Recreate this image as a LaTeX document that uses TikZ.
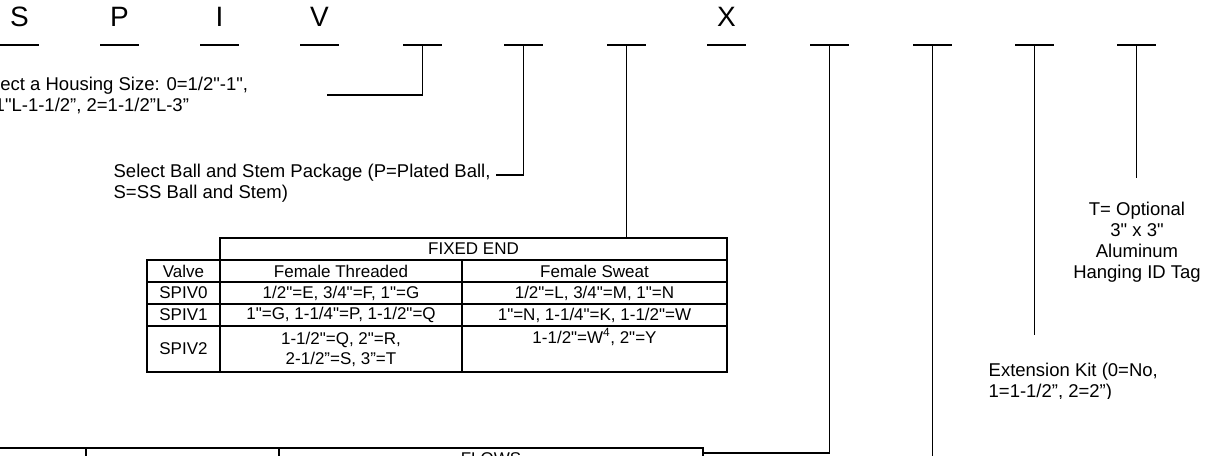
\documentclass[tikz,border=0pt]{standalone}
\usepackage{fontspec}
\setmainfont{Liberation Sans}[Ligatures=TeXOff]
\tikzset{blank/.style={line width=2pt},
  letter/.style={font=\fontsize{28}{30}\selectfont, anchor=base, inner sep=0pt},
  note/.style={font=\fontsize{18.5}{21}\selectfont, inner sep=0pt, align=left},
  cell/.style={font=\fontsize{17}{20}\selectfont, inner sep=0pt, align=center}}

\begin{document}
\begin{tikzpicture}[x=1pt,y=-1pt,line width=1.3pt]
    \useasboundingbox (0,0) rectangle (1209,455);
    \clip (0,0) rectangle (1209,455);

    % blanks of the model code
    \foreach \x [count=\i] in {0,100,200,300,403,504,607,707,810,913,1015,1117} {
      \coordinate (b\i) at (\x+19.5,45);
      \draw[blank] (b\i) ++(-19.5,0) -- ++(39,0);
    }
    \node[letter] (cS) at (19.5,27) {S};
    \node[letter] (cP) at (119.5,27) {P};
    \node[letter] (cI) at (219.5,27) {I};
    \node[letter] (cV) at (319.5,27) {V};
    \node[letter] (cX) at (726.5,27) {X};

    % notes
    \node[note, anchor=west] (housing) at (-27,95.5)
      {Select a Housing Size: 0=1/2"-1",\\1=1"L-1-1/2”, 2=1-1/2”L-3”};
    \node[note, anchor=west] (ball) at (113,183.5)
      {Select Ball and Stem Package (P=Plated Ball,\\S=SS Ball and Stem)};
    \node[note, align=center, anchor=north] (tag) at (1137,201)
      {T= Optional\\3" x 3"\\Aluminum\\Hanging ID Tag};
    \begin{scope}
      \clip (980,355) rectangle (1209,398);
      \node[note, anchor=north west] (extkit) at (988,362)
        {Extension Kit (0=No,\\1=1-1/2”, 2=2”)};
    \end{scope}

    % fixed end table
    \draw (220,238) rectangle node[cell] (fixed) {FIXED END} (727,260);
    \draw (147,260) rectangle node[cell] (valve) {Valve} (220,282);
    \draw (220,260) rectangle node[cell] (thread) {Female Threaded} (462,282);
    \draw (462,260) rectangle node[cell] (sweat) {Female Sweat} (727,282);
    \draw (147,282) rectangle node[cell] (v0) {SPIV0} (220,304);
    \draw (220,282) rectangle node[cell] (t0) {1/2"=E, 3/4"=F, 1"=G} (462,304);
    \draw (462,282) rectangle node[cell] (s0) {1/2"=L, 3/4"=M, 1"=N} (727,304);
    \draw (147,304) rectangle node[cell] (v1) {SPIV1} (220,326);
    \draw (220,304) rectangle node[cell] (t1) {1"=G, 1-1/4"=P, 1-1/2"=Q} (462,326);
    \draw (462,304) rectangle node[cell] (s1) {1"=N, 1-1/4"=K, 1-1/2"=W} (727,326);
    \draw (147,326) rectangle node[cell] (v2) {SPIV2} (220,372);
    \draw (220,326) rectangle node[cell] (t2) {1-1/2"=Q, 2"=R,\\2-1/2”=S, 3”=T} (462,372);
    \draw (462,326) rectangle (727,372);
    \node[cell] (s2) at (594.5,337) {1-1/2"=W\textsuperscript{4}, 2"=Y};

    % flows table
    \draw (-5,448) rectangle (86,470);
    \draw (86,448) rectangle (279,470);
    \draw (279,448) rectangle node[cell] (flows) {FLOWS} (703,470);

    % leaders
    \coordinate (housingend) at (327,95);
    \coordinate (ballend) at (496,175);
    \coordinate (fixedtop) at (626.5,238);
    \coordinate (flowsedge) at (703,453);
    \coordinate (b10end) at (932.5,460);
    \coordinate (b11end) at (1034.5,335);
    \coordinate (b12end) at (1136.5,178);
    \draw (b5) |- (housingend);
    \draw (b6) |- (ballend);
    \draw (b7) -- (fixedtop);
    \draw (b9) |- (flowsedge);
    \draw (b10) -- (b10end);
    \draw (b11) -- (b11end);
    \draw (b12) -- (b12end);
\end{tikzpicture}
\end{document}
